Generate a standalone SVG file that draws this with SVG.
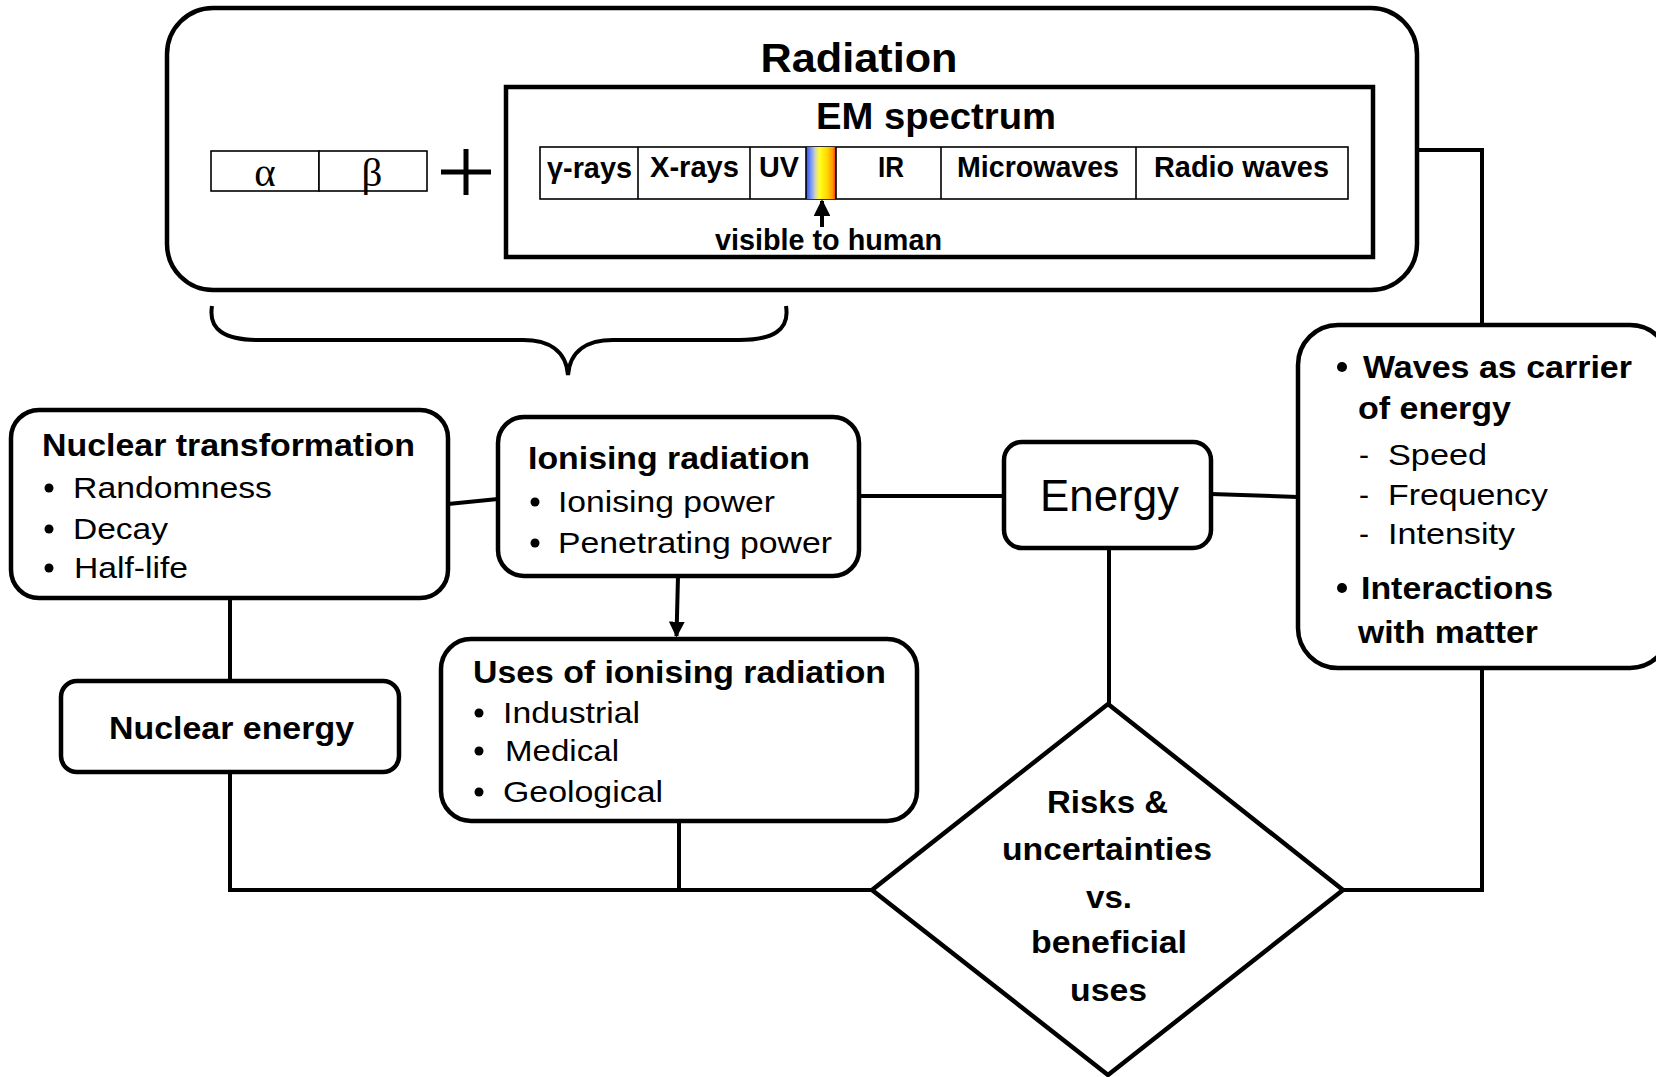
<svg xmlns="http://www.w3.org/2000/svg" width="1656" height="1077" viewBox="0 0 1656 1077">
  <defs>
    <style>
      .box { fill: #fff; stroke: #000; stroke-width: 4.5; }
      .thin { fill: #fff; stroke: #000; stroke-width: 1.6; }
      .wire { fill: none; stroke: #000; stroke-width: 4; }
      .dot { fill: #000; }
      text { font-family: "Liberation Sans", Arial, sans-serif; fill: #000; }
      .b { font-weight: bold; }
      .t { font-size: 31px; }
      .s { font-size: 30px; }
      .spec { font-size: 29px; font-weight: bold; }
      .greek { font-family: "Liberation Serif", "Times New Roman", serif; font-size: 41px; }
    </style>
    <linearGradient id="visible" x1="0" y1="0" x2="1" y2="0">
      <stop offset="0" stop-color="#2f4fe0"/>
      <stop offset="0.18" stop-color="#7f9cff"/>
      <stop offset="0.32" stop-color="#d8d8b0"/>
      <stop offset="0.45" stop-color="#ffff20"/>
      <stop offset="0.7" stop-color="#ffd800"/>
      <stop offset="0.88" stop-color="#ff9a00"/>
      <stop offset="1" stop-color="#ff2a00"/>
    </linearGradient>
    <marker id="head" viewBox="0 0 10 10" refX="9" refY="5" markerWidth="4.2" markerHeight="4.2" orient="auto" markerUnits="strokeWidth">
      <path d="M0,0 L10,5 L0,10 Z" fill="#000"/>
    </marker>
    <marker id="bighead" viewBox="0 0 10 10" refX="9" refY="5" markerWidth="4" markerHeight="4.4" orient="auto" markerUnits="strokeWidth">
      <path d="M0,0 L10,5 L0,10 Z" fill="#000"/>
    </marker>
  </defs>

  <!-- connectors -->
  <g id="connectors">
    <line class="wire" x1="448" y1="504" x2="498" y2="499"/>
    <line class="wire" x1="859" y1="496" x2="1004" y2="496"/>
    <line class="wire" x1="1211" y1="494" x2="1298" y2="497"/>
    <polyline class="wire" points="1417,150 1482,150 1482,325"/>
    <polyline class="wire" points="1482,668 1482,890 1343,890"/>
    <line class="wire" x1="1109" y1="548" x2="1109" y2="704"/>
    <line class="wire" x1="230" y1="598" x2="230" y2="681"/>
    <polyline class="wire" points="230,772 230,890 872,890"/>
    <line class="wire" x1="679" y1="821" x2="679" y2="890"/>
    <line class="wire" x1="678" y1="576" x2="676.5" y2="636" stroke-width="4.5" marker-end="url(#bighead)"/>
    <!-- brace grouping alpha/beta with the spectrum's ionising end -->
    <path class="wire" stroke-width="5" d="M212,306 C208,330 225,340 259,340 L523,340 C548,340 566,350 568,375 C570,350 588,340 613,340 L739,340 C773,340 790,330 786,306"/>
  </g>

  <!-- Radiation -->
  <g id="radiation">
    <rect class="box" x="167" y="8" width="1250" height="282" rx="46"/>
    <text class="b" x="859" y="72" font-size="41" text-anchor="middle" textLength="197" lengthAdjust="spacingAndGlyphs">Radiation</text>
    <rect class="thin" x="211" y="151" width="108" height="40"/>
    <rect class="thin" x="319" y="151" width="108" height="40"/>
    <text class="greek" x="265" y="186" text-anchor="middle">α</text>
    <text class="greek" x="372" y="186" text-anchor="middle">β</text>
    <path d="M441,172 H491 M466,149 V195" stroke="#000" stroke-width="5" fill="none"/>
  </g>

  <!-- EM spectrum -->
  <g id="em-spectrum">
    <rect class="box" x="506" y="87" width="867" height="170" stroke-width="5"/>
    <text class="b" x="936" y="129" font-size="37" text-anchor="middle" textLength="240" lengthAdjust="spacingAndGlyphs">EM spectrum</text>
    <rect class="thin" x="540" y="147" width="808" height="52"/>
    <rect x="806" y="147" width="30" height="52" fill="url(#visible)"/>
    <path d="M638,147 V199 M750,147 V199 M806,147 V199 M836,147 V199 M941,147 V199 M1136,147 V199" stroke="#000" stroke-width="1.6"/>
    <text class="spec" x="589.5" y="178" text-anchor="middle" textLength="85" lengthAdjust="spacingAndGlyphs">γ-rays</text>
    <text class="spec" x="694.5" y="177" text-anchor="middle" textLength="89" lengthAdjust="spacingAndGlyphs">X-rays</text>
    <text class="spec" x="779" y="177" text-anchor="middle" textLength="40" lengthAdjust="spacingAndGlyphs">UV</text>
    <text class="spec" x="891" y="177" text-anchor="middle" textLength="26" lengthAdjust="spacingAndGlyphs">IR</text>
    <text class="spec" x="1038" y="177" text-anchor="middle" textLength="162" lengthAdjust="spacingAndGlyphs">Microwaves</text>
    <text class="spec" x="1241.5" y="177" text-anchor="middle" textLength="175" lengthAdjust="spacingAndGlyphs">Radio waves</text>
    <line x1="822" y1="227" x2="822" y2="201" stroke="#000" stroke-width="4" marker-end="url(#head)"/>
    <text class="b" x="828.5" y="250" font-size="29" text-anchor="middle" textLength="227" lengthAdjust="spacingAndGlyphs">visible to human</text>
  </g>

  <!-- Nuclear transformation -->
  <g id="nuclear-transformation">
    <rect class="box" x="11" y="410" width="437" height="188" rx="28"/>
    <text class="b t" x="42" y="456" textLength="373" lengthAdjust="spacingAndGlyphs">Nuclear transformation</text>
    <circle class="dot" cx="49" cy="488" r="4.5"/>
    <text class="s" x="73" y="498" textLength="199" lengthAdjust="spacingAndGlyphs">Randomness</text>
    <circle class="dot" cx="49" cy="529" r="4.5"/>
    <text class="s" x="73" y="539" textLength="95" lengthAdjust="spacingAndGlyphs">Decay</text>
    <circle class="dot" cx="49" cy="568" r="4.5"/>
    <text class="s" x="74" y="578" textLength="114" lengthAdjust="spacingAndGlyphs">Half-life</text>
  </g>

  <!-- Ionising radiation -->
  <g id="ionising-radiation">
    <rect class="box" x="498" y="417" width="361" height="159" rx="26"/>
    <text class="b t" x="528" y="469" textLength="282" lengthAdjust="spacingAndGlyphs">Ionising radiation</text>
    <circle class="dot" cx="535" cy="502" r="4.5"/>
    <text class="s" x="558" y="512" textLength="217" lengthAdjust="spacingAndGlyphs">Ionising power</text>
    <circle class="dot" cx="535" cy="543" r="4.5"/>
    <text class="s" x="558" y="553" textLength="274" lengthAdjust="spacingAndGlyphs">Penetrating power</text>
  </g>

  <!-- Uses of ionising radiation -->
  <g id="uses">
    <rect class="box" x="441" y="639" width="476" height="182" rx="30"/>
    <text class="b t" x="473" y="683" textLength="413" lengthAdjust="spacingAndGlyphs">Uses of ionising radiation</text>
    <circle class="dot" cx="479" cy="713" r="4.5"/>
    <text class="s" x="503" y="723" textLength="137" lengthAdjust="spacingAndGlyphs">Industrial</text>
    <circle class="dot" cx="479" cy="751" r="4.5"/>
    <text class="s" x="505" y="761" textLength="114" lengthAdjust="spacingAndGlyphs">Medical</text>
    <circle class="dot" cx="479" cy="792" r="4.5"/>
    <text class="s" x="503" y="802" textLength="160" lengthAdjust="spacingAndGlyphs">Geological</text>
  </g>

  <!-- Nuclear energy -->
  <g id="nuclear-energy">
    <rect class="box" x="61" y="681" width="338" height="91" rx="16"/>
    <text class="b t" x="231.5" y="739" text-anchor="middle" textLength="245" lengthAdjust="spacingAndGlyphs">Nuclear energy</text>
  </g>

  <!-- Energy -->
  <g id="energy">
    <rect class="box" x="1004" y="442" width="207" height="106" rx="18"/>
    <text x="1109.5" y="511" font-size="44" text-anchor="middle" textLength="139" lengthAdjust="spacingAndGlyphs">Energy</text>
  </g>

  <!-- Waves -->
  <g id="waves">
    <rect class="box" x="1298" y="325" width="372" height="343" rx="40"/>
    <circle class="dot" cx="1342" cy="367" r="5"/>
    <text class="b t" x="1363" y="378" textLength="269" lengthAdjust="spacingAndGlyphs">Waves as carrier</text>
    <text class="b t" x="1358" y="419" textLength="153" lengthAdjust="spacingAndGlyphs">of energy</text>
    <text class="s" x="1359" y="465">-</text>
    <text class="s" x="1388" y="465" textLength="99" lengthAdjust="spacingAndGlyphs">Speed</text>
    <text class="s" x="1359" y="505">-</text>
    <text class="s" x="1388" y="505" textLength="160" lengthAdjust="spacingAndGlyphs">Frequency</text>
    <text class="s" x="1359" y="544">-</text>
    <text class="s" x="1388" y="544" textLength="127" lengthAdjust="spacingAndGlyphs">Intensity</text>
    <circle class="dot" cx="1342" cy="588" r="5"/>
    <text class="b t" x="1361" y="599" textLength="192" lengthAdjust="spacingAndGlyphs">Interactions</text>
    <text class="b t" x="1358" y="643" textLength="180" lengthAdjust="spacingAndGlyphs">with matter</text>
  </g>

  <!-- Risks vs benefits -->
  <g id="risks">
    <polygon class="box" points="1108,704 1343,890 1108,1075 872,890" stroke-width="5"/>
    <text class="b t" x="1107.5" y="813" text-anchor="middle" textLength="121" lengthAdjust="spacingAndGlyphs">Risks &amp;</text>
    <text class="b t" x="1107" y="860" text-anchor="middle" textLength="210" lengthAdjust="spacingAndGlyphs">uncertainties</text>
    <text class="b t" x="1109" y="908" text-anchor="middle" textLength="46" lengthAdjust="spacingAndGlyphs">vs.</text>
    <text class="b t" x="1109" y="953" text-anchor="middle" textLength="156" lengthAdjust="spacingAndGlyphs">beneficial</text>
    <text class="b t" x="1108.5" y="1001" text-anchor="middle" textLength="77" lengthAdjust="spacingAndGlyphs">uses</text>
  </g>
</svg>
